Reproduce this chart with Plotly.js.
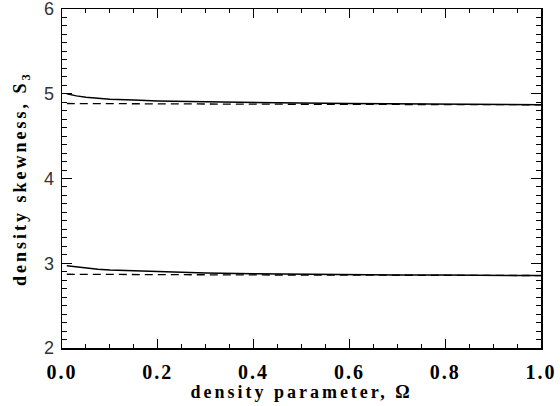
<!DOCTYPE html>
<html>
<head>
<meta charset="utf-8">
<script src="https://cdn.plot.ly/plotly-3.0.1.min.js"></script>
<style>
html,body{margin:0;padding:0;background:#fff;}
#chart{width:560px;height:406px;}
#chart .g-xtitle text, #chart .g-ytitle text{letter-spacing:3px;}
#chart .xtick text{letter-spacing:2px;}
</style>
</head>
<body>
<div id="chart"></div>
<script>
var omega = [0.01, 0.03, 0.05, 0.075, 0.1, 0.15, 0.2, 0.3, 0.4, 0.5, 0.6, 0.7, 0.8, 0.9, 1.0];
var upperSolid = [5.00, 4.975, 4.96, 4.945, 4.935, 4.925, 4.915, 4.905, 4.895, 4.89, 4.885, 4.88, 4.875, 4.872, 4.87];
var upperDashed = [4.885, 4.885, 4.884, 4.884, 4.883, 4.882, 4.881, 4.879, 4.877, 4.876, 4.875, 4.874, 4.873, 4.872, 4.87];
var lowerSolid = [2.97, 2.955, 2.94, 2.93, 2.92, 2.91, 2.90, 2.885, 2.877, 2.87, 2.865, 2.862, 2.86, 2.857, 2.855];
var lowerDashed = [2.87, 2.87, 2.869, 2.869, 2.868, 2.867, 2.866, 2.864, 2.862, 2.861, 2.86, 2.859, 2.858, 2.856, 2.855];
var xTicks = [0.0, 0.2, 0.4, 0.6, 0.8, 1.0];
var xTickLabels = ["0.0", "0.2", "0.4", "0.6", "0.8", "1.0"];
var yTicks = [2, 3, 4, 5, 6];
var yTickLabels = ["2", "3", "4", "5", "6"];

var solid = {color: '#000', width: 1.5};
var dashed = {color: '#000', width: 1.3, dash: '8px,5px'};
var traces = [
  {x: omega, y: upperSolid, mode: 'lines', line: solid, hoverinfo: 'skip'},
  {x: omega, y: upperDashed, mode: 'lines', line: dashed, hoverinfo: 'skip'},
  {x: omega, y: lowerSolid, mode: 'lines', line: solid, hoverinfo: 'skip'},
  {x: omega, y: lowerDashed, mode: 'lines', line: dashed, hoverinfo: 'skip'}
];
var layout = {
  width: 560, height: 406,
  margin: {l: 62, r: 19, t: 9, b: 58},
  paper_bgcolor: '#fff', plot_bgcolor: '#fff',
  showlegend: false,
  xaxis: {
    range: [0, 1], tickvals: xTicks, ticktext: xTickLabels,
    ticks: 'inside', ticklen: 9, tickwidth: 1.2, tickcolor: '#000',
    minor: {dtick: 0.05, tick0: 0, ticks: 'inside', ticklen: 4, tickwidth: 1, tickcolor: '#000'},
    showline: true, linecolor: '#000', linewidth: 1.5, mirror: 'allticks',
    showgrid: false, zeroline: false,
    ticklabelstandoff: 5, ticklabeloverflow: 'allow',
    tickfont: {family: 'Liberation Serif', size: 20, weight: 'bold', color: '#000'},
    title: {text: 'density parameter, Ω', font: {family: 'Liberation Serif', size: 18, weight: 'bold', color: '#000'}, standoff: 1}
  },
  yaxis: {
    range: [2, 6], tickvals: yTicks, ticktext: yTickLabels,
    ticks: 'inside', ticklen: 10, tickwidth: 1.2, tickcolor: '#000',
    minor: {dtick: 0.1, tick0: 2, ticks: 'inside', ticklen: 5, tickwidth: 1, tickcolor: '#000'},
    showline: true, linecolor: '#000', linewidth: 1.5, mirror: 'allticks',
    showgrid: false, zeroline: false,
    ticklabelstandoff: 3, ticklabeloverflow: 'allow',
    tickfont: {family: 'Liberation Sans', size: 18, color: '#333'},
    title: {text: 'density skewness, S<sub>3</sub>', font: {family: 'Liberation Serif', size: 18, weight: 'bold', color: '#000'}, standoff: 12}
  }
};
Plotly.newPlot('chart', traces, layout, {staticPlot: true, displayModeBar: false});
</script>
</body>
</html>
